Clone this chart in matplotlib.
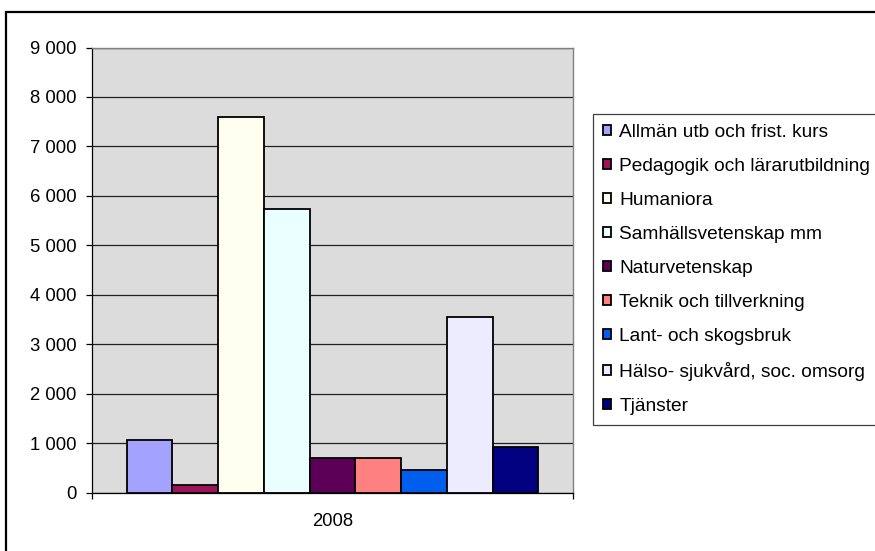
import numpy as np
import matplotlib
matplotlib.use("Agg")
import matplotlib.pyplot as plt
from matplotlib.patches import Rectangle
from matplotlib.ticker import FuncFormatter, FixedLocator

plt.rcParams['font.family'] = ['Liberation Sans', 'DejaVu Sans']

# data (year 2008)
categories = ['Allmän utb och frist. kurs', 'Pedagogik och lärarutbildning', 'Humaniora',
              'Samhällsvetenskap mm', 'Naturvetenskap', 'Teknik och tillverkning',
              'Lant- och skogsbruk', 'Hälso- sjukvård, soc. omsorg', 'Tjänster']
values = [1055, 145, 7600, 5730, 695, 695, 447, 3545, 923]
year_label = '2008'
colors = ['#A3A3FF', '#9E1359', '#FEFFEE', '#EAFFFF', '#5C0057',
          '#FF8080', '#005EEE', '#ECECFE', '#000080']

W, H = 875, 551
fig = plt.figure(figsize=(W / 100, H / 100), dpi=100)

# outer chart frame (runs off the right/bottom edge of the picture)
fig.patches.append(Rectangle((6 / W, -0.1), 1.2, 1.1 - 12 / H, transform=fig.transFigure,
                             fill=False, edgecolor='black', linewidth=1.6))

ax = fig.add_axes([92 / W, 1 - 492.5 / H, (573 - 92) / W, (492.5 - 47.5) / H])
ax.set_facecolor('#DCDCDC')

n = len(values)
bw = 0.8565 / n
x = (np.arange(n) - (n - 1) / 2) * bw
bars = ax.bar(x, values, width=bw, color=colors, edgecolor='black', linewidth=1.3, zorder=3)

ax.set_xlim(-0.5, 0.5)
ax.set_ylim(0, 9000)
ax.yaxis.set_major_locator(FixedLocator(np.arange(0, 9001, 1000)))
ax.yaxis.set_major_formatter(FuncFormatter(lambda v, p: f"{int(v):,}".replace(",", " ")))
ax.grid(axis='y', color='#202020', linewidth=0.9, zorder=1)
ax.tick_params(axis='y', direction='out', length=4.3, width=0.9, pad=7, labelsize=13.3, colors='black')

ax.set_xticks([-0.5, 0.5])
ax.set_xticklabels(['', ''])
ax.tick_params(axis='x', direction='out', length=4, width=0.9)
ax.text(0, -0.045, year_label, transform=ax.get_xaxis_transform(), ha='center', va='top', fontsize=13.3)

for side in ['top', 'right']:
    ax.spines[side].set_color('#808080')
    ax.spines[side].set_linewidth(1.0)
ax.spines['left'].set_color('black')
ax.spines['bottom'].set_color('black')
ax.spines['left'].set_linewidth(0.9)
ax.spines['bottom'].set_linewidth(0.9)

leg = ax.legend(bars, categories, loc='upper left', bbox_to_anchor=(593 / W, 1 - 114 / H),
                bbox_transform=fig.transFigure, borderaxespad=0, fontsize=13.8,
                handlelength=0.42, handleheight=0.42, handletextpad=0.45,
                labelspacing=0.89, borderpad=0.5, fancybox=False, shadow=False, framealpha=1)
leg.get_frame().set_edgecolor('#404040')
leg.get_frame().set_linewidth(0.9)

fig.savefig('out.png', dpi=100)
